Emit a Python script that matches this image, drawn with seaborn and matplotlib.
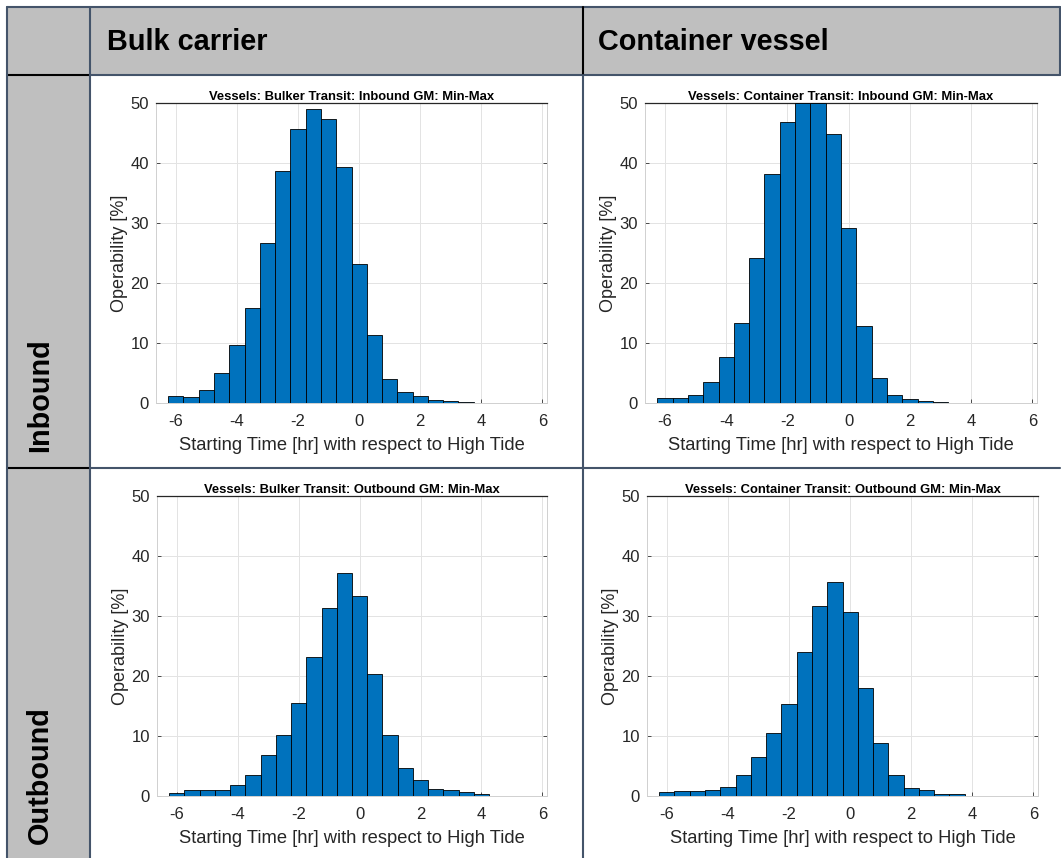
import numpy as np
import pandas as pd
import matplotlib
matplotlib.use("Agg")
import matplotlib.pyplot as plt
import seaborn as sns
from matplotlib.lines import Line2D
from matplotlib.patches import Rectangle

# ---------------- data ----------------
bin_centers = [-6.0, -5.5, -5.0, -4.5, -4.0, -3.5, -3.0, -2.5, -2.0, -1.5, -1.0,
               -0.5, 0.0, 0.5, 1.0, 1.5, 2.0, 2.5, 3.0, 3.5, 4.0]

bulk_inbound = [1.1, 1.0, 2.1, 5.0, 9.6, 15.8, 26.7, 38.7, 45.6, 49.0, 47.4,
                39.3, 23.1, 11.3, 4.05, 1.8, 1.2, 0.5, 0.33, 0.17, 0.0]
container_inbound = [0.83, 0.83, 1.3, 3.5, 7.7, 13.4, 24.1, 38.2, 46.9, 50.0, 50.0,
                     44.9, 29.2, 12.8, 4.2, 1.4, 0.7, 0.3, 0.15, 0.0, 0.0]
bulk_outbound = [0.5, 1.0, 1.0, 1.0, 1.85, 3.5, 6.9, 10.2, 15.5, 23.2, 31.4,
                 37.2, 33.4, 20.4, 10.2, 4.6, 2.6, 1.2, 1.0, 0.7, 0.4]
container_outbound = [0.67, 0.84, 0.84, 1.0, 1.56, 3.5, 6.5, 10.5, 15.4, 24.05, 31.75,
                      35.6, 30.6, 18.0, 8.9, 3.5, 1.4, 1.0, 0.4, 0.3, 0.0]

panel_titles = ["Vessels: Bulker Transit: Inbound GM: Min-Max",
                "Vessels: Container Transit: Inbound GM: Min-Max",
                "Vessels: Bulker Transit: Outbound GM: Min-Max",
                "Vessels: Container Transit: Outbound GM: Min-Max"]
column_headers = ["Bulk carrier", "Container vessel"]
row_headers = ["Inbound", "Outbound"]
x_ticks = [-6, -4, -2, 0, 2, 4, 6]
y_ticks = [0, 10, 20, 30, 40, 50]
x_label = "Starting Time [hr] with respect to High Tide"
y_label = "Operability [%]"

# ---------------- style ----------------
sns.set_style("white")
plt.rcParams['font.family'] = ['Liberation Sans', 'DejaVu Sans']
plt.rcParams['axes.unicode_minus'] = False

W, H = 1061, 858
fig = plt.figure(figsize=(W / 100, H / 100), dpi=100)
fig.patch.set_facecolor("white")

def fx(px):
    return px / W

def fy(py):
    return 1 - py / H

# table background
gray = "#BFBFBF"
fig.add_artist(Rectangle((fx(7), fy(75)), fx(1060) - fx(7), fy(7) - fy(75),
                         transform=fig.transFigure, facecolor=gray, edgecolor="none", zorder=0))
fig.add_artist(Rectangle((fx(7), fy(858)), fx(90) - fx(7), fy(75) - fy(858),
                         transform=fig.transFigure, facecolor=gray, edgecolor="none", zorder=0))

line_col = "#44546A"
def hline(y, x0, x1, c=line_col):
    fig.add_artist(Line2D([fx(x0), fx(x1)], [fy(y), fy(y)], transform=fig.transFigure,
                          color=c, lw=1.5, zorder=1))

def vline(x, y0, y1, c=line_col):
    fig.add_artist(Line2D([fx(x), fx(x)], [fy(y0), fy(y1)], transform=fig.transFigure,
                          color=c, lw=1.5, zorder=1))

hline(7, 7, 1060)
hline(75, 7, 90, "black")
hline(75, 90, 1060)
hline(468, 7, 90, "black")
hline(468, 90, 1060)
vline(7, 7, 858)
vline(90, 7, 858)
vline(583, 7, 75, "black")
vline(583, 75, 858)
vline(1060, 7, 75)

# headers
for txt, x in zip(column_headers, [107, 598]):
    fig.text(fx(x), fy(42), txt, fontsize=20.8, fontweight="bold", ha="left", va="center",
             color="black")
for txt, y in zip(row_headers, [395, 775]):
    fig.text(fx(40), fy(y), txt, fontsize=20.8, fontweight="bold", ha="center", va="center",
             rotation=90, color="black")

# panels
series = [bulk_inbound, container_inbound, bulk_outbound, container_outbound]
rects = [(156, 547, 103, 403), (645, 1037, 103, 403),
         (157, 547, 496, 796), (647, 1038, 496, 796)]

text_col = "#262626"
for vals, title, (l, r, t, b) in zip(series, panel_titles, rects):
    ax = fig.add_axes([fx(l), fy(b), fx(r) - fx(l), fy(t) - fy(b)])
    df = pd.DataFrame({"center": bin_centers, "value": vals})
    df = df[df["value"] > 0]
    edges = [c - 0.25 for c in df["center"]] + [df["center"].iloc[-1] + 0.25]
    sns.histplot(data=df, x="center", weights="value", bins=edges, ax=ax,
                 color="#0072BD", edgecolor="black", linewidth=0.6, alpha=1.0, zorder=3)
    ax.set_xlim(-6.65, 6.15)
    ax.set_ylim(0, 50)
    ax.set_xticks(x_ticks)
    ax.set_xticklabels([str(v) for v in x_ticks])
    ax.set_yticks(y_ticks)
    ax.set_yticklabels([str(v) for v in y_ticks])
    ax.grid(True, color="#E3E3E3", lw=0.7, zorder=0)
    ax.set_axisbelow(True)
    for s in ["left", "bottom", "right"]:
        ax.spines[s].set_color("#D0D0D0")
        ax.spines[s].set_linewidth(0.7)
    ax.spines["top"].set_color("#262626")
    ax.spines["top"].set_linewidth(0.9)
    ax.tick_params(axis="both", direction="in", length=3, width=0.7, colors="#4a4a4a",
                   labelcolor=text_col, labelsize=12, right=True, left=True, bottom=True,
                   top=False)
    ax.tick_params(axis="y", pad=5)
    ax.tick_params(axis="x", pad=8)
    ax.set_xlabel(x_label, fontsize=13.2, color=text_col, labelpad=6)
    ax.set_ylabel(y_label, fontsize=13, color=text_col, labelpad=2)
    ax.set_title(title, fontsize=9.4, fontweight="bold", color="black", pad=2)

fig.savefig("out.png", dpi=100, facecolor="white")
